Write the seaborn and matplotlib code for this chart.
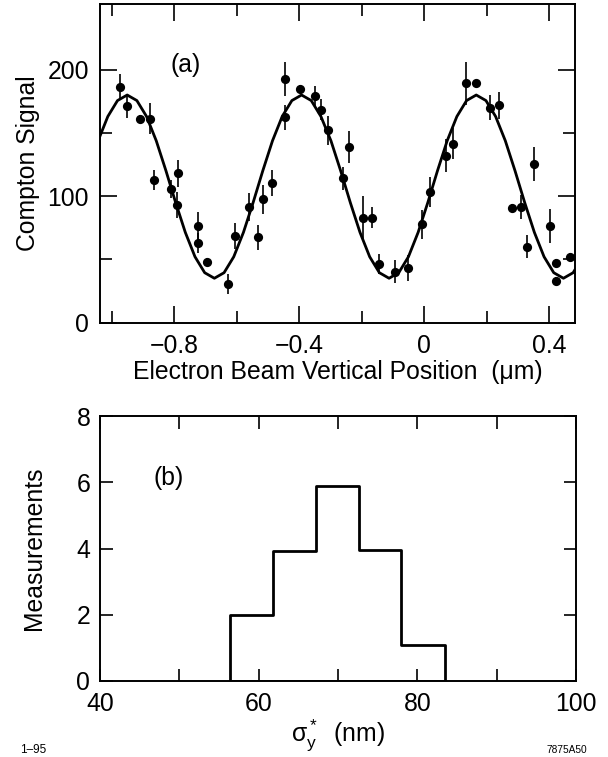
import numpy as np
import pandas as pd
import matplotlib
matplotlib.use('Agg')
import matplotlib.pyplot as plt
import seaborn as sns
from matplotlib.ticker import MultipleLocator, FixedLocator

# (a) Compton signal scan
pos_um = [-0.974, -0.952, -0.909, -0.878, -0.865, -0.811, -0.788, -0.790, -0.723, -0.723,
          -0.694, -0.628, -0.606, -0.561, -0.531, -0.515, -0.486, -0.445, -0.445, -0.397,
          -0.349, -0.329, -0.308, -0.260, -0.241, -0.195, -0.168, -0.145, -0.094, -0.051,
          -0.008, 0.018, 0.071, 0.092, 0.133, 0.165, 0.210, 0.239, 0.282, 0.309,
          0.351, 0.330, 0.402, 0.421, 0.421, 0.467]
signal = [186.4, 171.1, 161.4, 161.4, 112.6, 105.5, 117.9, 92.9, 76.3, 63.1,
          47.8, 30.2, 68.6, 91.5, 67.3, 97.6, 110.5, 162.2, 193.0, 184.8,
          179.3, 168.5, 152.2, 114.0, 139.0, 82.9, 82.9, 46.0, 40.2, 43.3,
          77.6, 103.4, 131.9, 141.6, 189.1, 189.1, 170.1, 171.7, 90.8, 91.0,
          125.3, 59.9, 76.3, 47.3, 32.8, 52.0]
signal_err = [10, 9, 3, 12, 8, 7, 10.5, 10, 11, 8,
              3, 8, 10.5, 11, 10, 11.5, 10.5, 10, 13.5, 3,
              8, 8.5, 11.5, 9, 12.5, 17.5, 8.5, 8, 9, 10.5,
              11.5, 12, 13, 12, 17, 3, 10, 11, 3, 9.5,
              13.5, 9, 13.5, 3, 3, 3]

# fitted curve
fit_x = [-1.043, -1.012, -0.981, -0.950, -0.919, -0.888, -0.857, -0.826, -0.795, -0.764,
         -0.733, -0.702, -0.671, -0.640, -0.609, -0.578, -0.547, -0.516, -0.485, -0.454,
         -0.423, -0.392, -0.361, -0.330, -0.298, -0.267, -0.236, -0.205, -0.174, -0.143,
         -0.112, -0.081, -0.050, -0.019, 0.012, 0.043, 0.074, 0.105, 0.136, 0.167,
         0.198, 0.229, 0.260, 0.291, 0.322, 0.353, 0.384, 0.415, 0.446, 0.477, 0.508]
fit_y = [143.8, 163.0, 175.6, 180.0, 175.6, 163.0, 143.8, 120.1, 94.9, 71.3,
         52.0, 39.4, 35.0, 39.4, 52.0, 71.3, 94.9, 120.1, 143.8, 163.0,
         175.6, 180.0, 175.6, 163.0, 143.8, 120.1, 94.9, 71.3, 52.0, 39.4,
         35.0, 39.4, 52.0, 71.3, 94.9, 120.1, 143.8, 163.0, 175.6, 180.0,
         175.6, 163.0, 143.8, 120.1, 94.9, 71.3, 52.0, 39.4, 35.0, 39.4, 52.0]

# (b) histogram of sigma_y*
bin_edges = [56.4, 61.8, 67.2, 72.6, 78.0, 83.5]
bin_counts = [2.0, 3.93, 5.9, 3.95, 1.1]

sns.set_style('ticks')
plt.rcParams['font.family'] = ['Liberation Sans', 'DejaVu Sans']
plt.rcParams['mathtext.fontset'] = 'custom'
plt.rcParams['mathtext.rm'] = 'Liberation Sans'
plt.rcParams['mathtext.it'] = 'Liberation Sans'
plt.rcParams['mathtext.default'] = 'regular'
for key in ['text.color', 'axes.labelcolor', 'xtick.color', 'ytick.color', 'axes.edgecolor']:
    plt.rcParams[key] = 'black'

FS = 17.8
fig = plt.figure(figsize=(6.08, 7.57), dpi=100)
W, H = 608, 757
ax1 = fig.add_axes([100 / W, 1 - 322.5 / H, 475 / W, 318.5 / H])
ax2 = fig.add_axes([100 / W, 1 - 681 / H, 476 / W, 265 / H])

for ax in (ax1, ax2):
    for sp in ax.spines.values():
        sp.set_linewidth(1.4)
        sp.set_color('black')
        sp.set_visible(True)

# ---- panel (a)
ax1.errorbar(pos_um, signal, yerr=signal_err, fmt='none', ecolor='black',
             elinewidth=1.2, capsize=0, zorder=2)
sns.scatterplot(x=pos_um, y=signal, ax=ax1, color='black', s=44,
                linewidth=0, zorder=3)
sns.lineplot(x=fit_x, y=fit_y, ax=ax1, sort=False, estimator=None,
             color='black', linewidth=2.0, zorder=4)
ax1.set_xlim(-1.037, 0.483)
ax1.set_ylim(0, 252)
ax1.xaxis.set_major_locator(FixedLocator([-0.8, -0.4, 0, 0.4]))
ax1.xaxis.set_minor_locator(FixedLocator([-1.0, -0.6, -0.2, 0.2]))
ax1.yaxis.set_major_locator(FixedLocator([0, 100, 200]))
ax1.yaxis.set_minor_locator(FixedLocator([50, 150]))
ax1.set_xticklabels(['\u22120.8', '\u22120.4', '0', '0.4'])
ax1.tick_params(which='both', direction='in', top=True, right=True,
                width=1.2, labelsize=FS)
ax1.tick_params(which='major', length=12.5)
ax1.tick_params(which='minor', length=8.5)
ax1.tick_params(axis='x', pad=8)
ax1.tick_params(axis='y', pad=8)
ax1.set_xlabel('Electron Beam Vertical Position  (\u03bcm)', fontsize=FS, labelpad=2)
ax1.set_ylabel('Compton Signal', fontsize=FS, labelpad=5)
ax1.text(-0.762, 204, '(a)', fontsize=FS, ha='center', va='center')

# ---- panel (b)
centers = [(a + b) / 2 for a, b in zip(bin_edges[:-1], bin_edges[1:])]
hist_df = pd.DataFrame({'sigma': centers, 'n': bin_counts})
sns.histplot(data=hist_df, x='sigma', weights='n', bins=bin_edges, ax=ax2,
             element='step', fill=True, color='black')
for coll in ax2.collections:
    coll.set_facecolor('none')
    coll.set_edgecolor('black')
    coll.set_linewidth(2.0)
    coll.set_alpha(1)
ax2.set_xlim(40, 100)
ax2.set_ylim(0, 8)
ax2.xaxis.set_major_locator(FixedLocator([40, 60, 80, 100]))
ax2.xaxis.set_minor_locator(FixedLocator([50, 70, 90]))
ax2.yaxis.set_major_locator(MultipleLocator(2))
ax2.tick_params(which='both', direction='in', top=True, right=True,
                width=1.2, labelsize=FS, length=9)
ax2.tick_params(axis='x', pad=8)
ax2.tick_params(axis='y', pad=7)
ax2.set_xlabel(r'$\sigma_y^*$  (nm)', fontsize=FS, labelpad=1)
ax2.set_ylabel('Measurements', fontsize=FS, labelpad=22)
ax2.text(48.6, 6.12, '(b)', fontsize=FS, ha='center', va='center')

fig.text(20 / W, 1 - 750 / H, '1\u201395', fontsize=8.5, ha='left', va='center')
fig.text(587 / W, 1 - 750 / H, '7875A50', fontsize=7.3, ha='right', va='center')

fig.savefig('out.png', dpi=100)
